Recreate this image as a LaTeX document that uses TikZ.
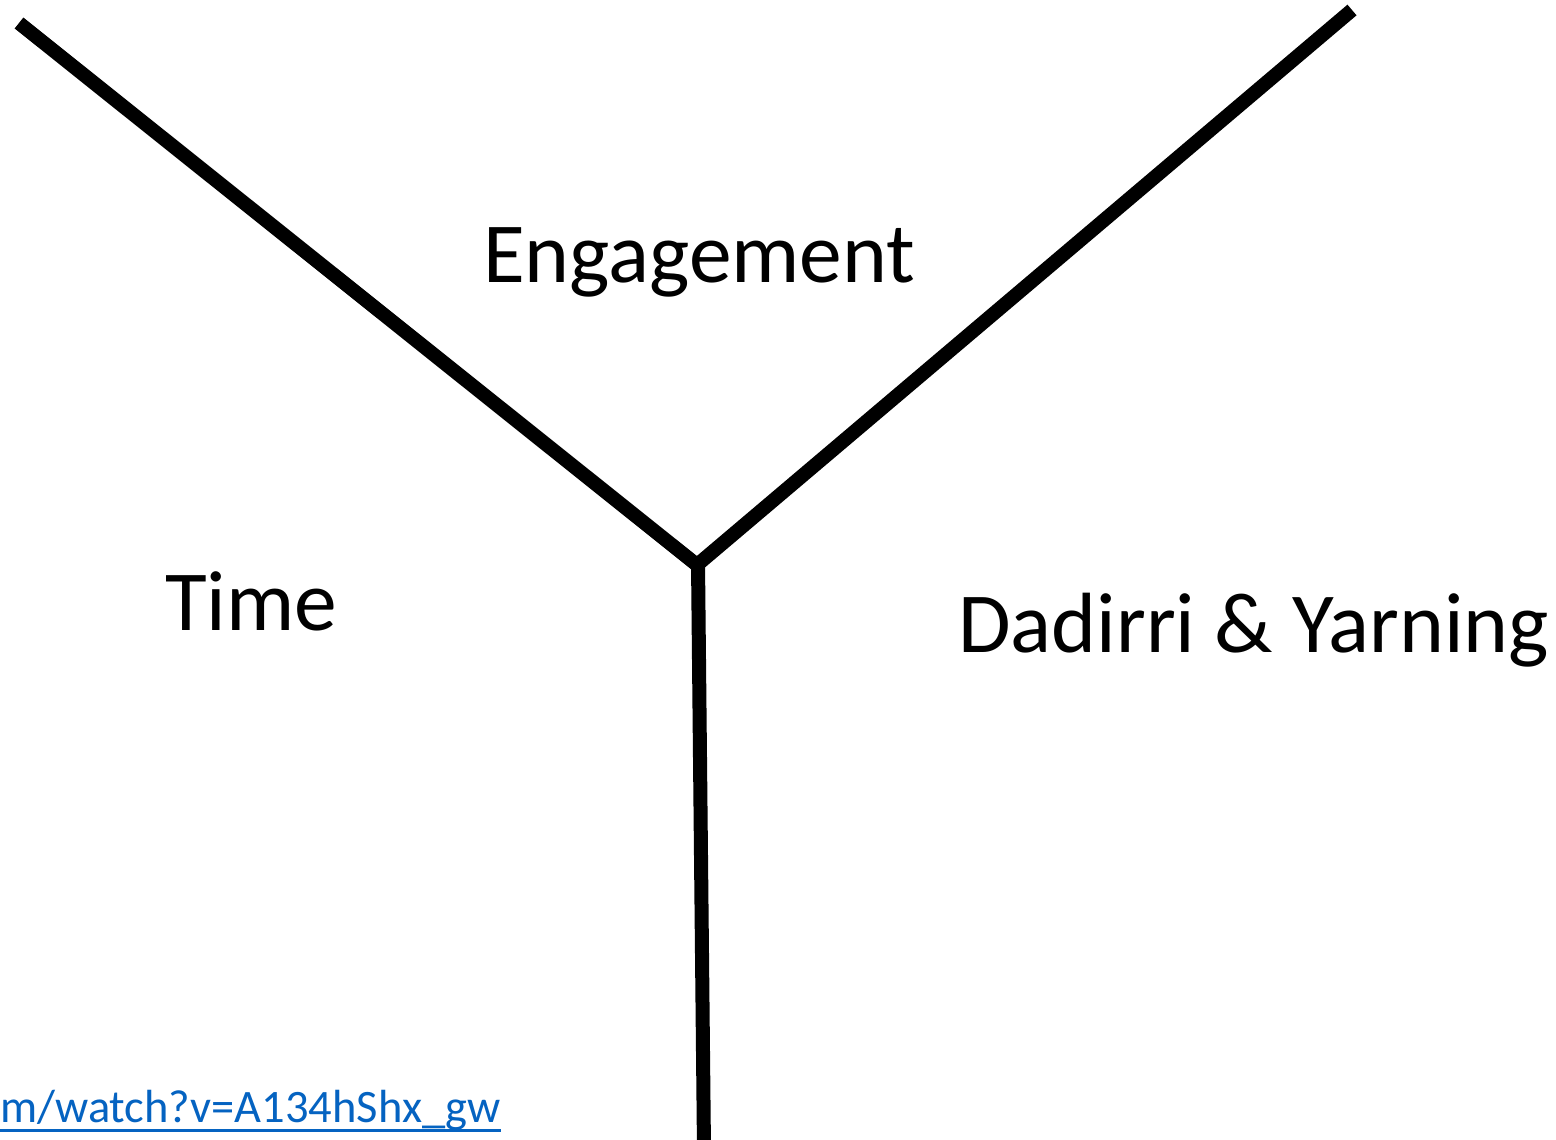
\documentclass[tikz,border=0pt]{standalone}
\usepackage{fontspec}
\setmainfont{Carlito}
\definecolor{linkblue}{HTML}{0563C1}
\begin{document}
\begin{tikzpicture}[x=1pt,y=-1pt,
  stroke/.style={line width=14pt, black},
  label/.style={inner sep=0pt, anchor=base west, font=\fontsize{85.5}{100}\selectfont},
  linktext/.style={inner sep=0pt, anchor=base west, text=linkblue, font=\fontsize{46.5}{56}\selectfont}]
\useasboundingbox (0,0) rectangle (1556,1140);
\coordinate (tl) at (19,23);
\coordinate (tr) at (1352,10);
\coordinate (j) at (697,565);
\coordinate (jv) at (698,562);
\coordinate (bot) at (704,1150);
\draw[stroke] (tl) -- (j);
\draw[stroke] (tr) -- (j);
\draw[stroke] (jv) -- (bot);
\node[label] (eng) at (483,282) {Engagement};
\node[label] (time) at (165,630) {Time};
\node[label] (dad) at (958,652) {Dadirri \& Yarning};
\node[linktext] (link) at (0,1122) {m/watch?v=A134hShx\_gw};
\draw[linkblue, line width=3pt] ([yshift=-8pt]link.base west) -- ([yshift=-8pt]link.base east);
\end{tikzpicture}
\end{document}
